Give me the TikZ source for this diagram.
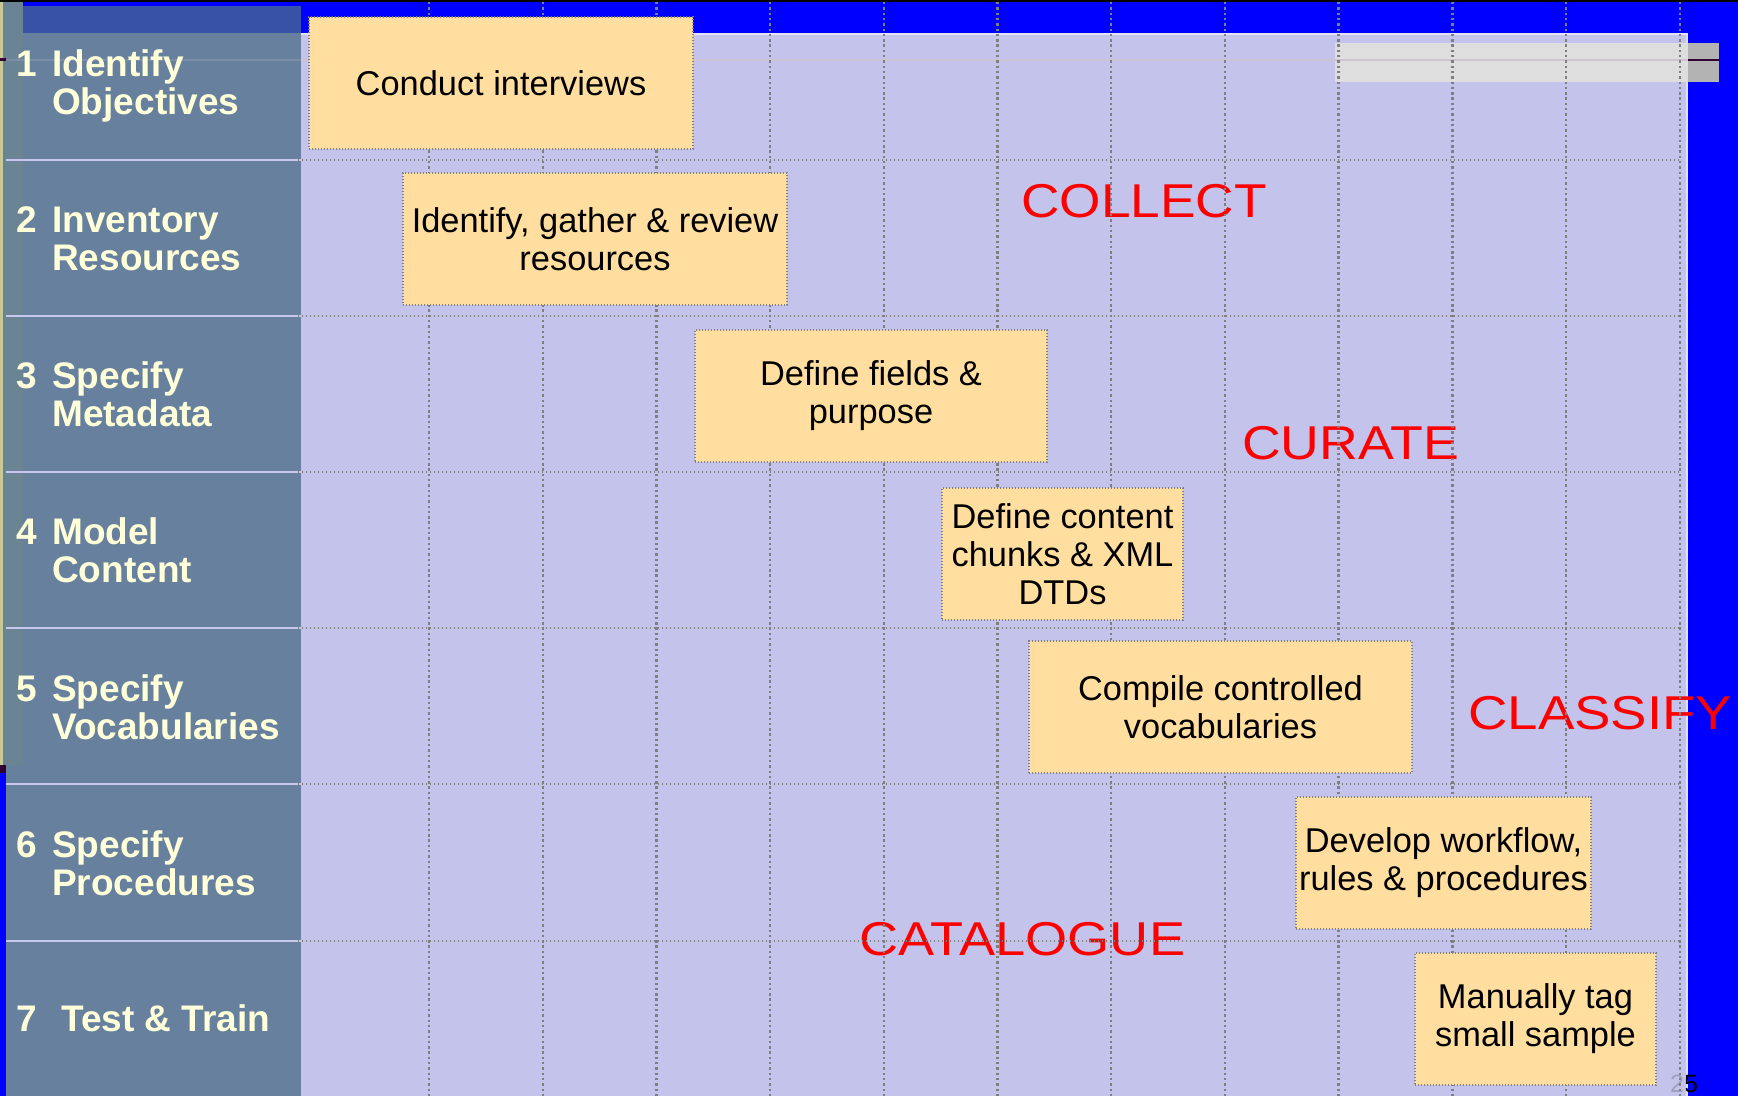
\documentclass[tikz,border=0pt]{standalone}
\usepackage{fontspec}
\setmainfont{Liberation Sans}
\usepackage{graphicx}
\definecolor{slate}{HTML}{66809E}
\definecolor{lav}{HTML}{C3C3EB}
\definecolor{boxfill}{HTML}{FFDE9F}
\definecolor{cream}{HTML}{FFFFD9}
\definecolor{topband}{HTML}{3752A6}
\definecolor{khaki}{HTML}{C8C896}
\definecolor{stripgrey}{HTML}{6A8494}
\definecolor{gridgrey}{HTML}{7F7F7F}
\definecolor{barlight}{HTML}{DEDEDE}
\definecolor{bardark}{HTML}{B3B3B3}
\definecolor{maroon}{HTML}{330033}
\definecolor{pinkline}{HTML}{CFC2D2}
\definecolor{sepline}{HTML}{C8C8EE}
\definecolor{lavedge}{HTML}{E2E2F4}
\definecolor{pureblue}{HTML}{0000FF}
\definecolor{phasered}{HTML}{FF0000}
\begin{document}
\begin{tikzpicture}[x=1pt,y=-1pt,
  stage/.style={draw=gridgrey, line width=1.2pt, dash pattern=on 1.2pt off 1.8pt,
    fill=boxfill, align=center, inner sep=0pt,
    font=\fontsize{34.4}{38}\selectfont},
  rowlabel/.style={anchor=base west, inner sep=0pt, text=cream,
    font=\fontsize{37}{39}\selectfont\bfseries},
  phase/.style={anchor=base west, inner sep=0pt, text=phasered,
    font=\fontsize{47.5}{50}\selectfont},
  vgrid/.style={draw=gridgrey, line width=2.4pt, dash pattern=on 2.4pt off 2.9pt},
  hgrid/.style={draw=gridgrey, line width=1.4pt, dash pattern=on 1.4pt off 2.6pt}]
\useasboundingbox (0,0) rectangle (1738,1096);
% background and panels
\fill[pureblue] (0,0) rectangle (1738,1096);
\fill[black] (0,0) rectangle (1738,2);
\fill[slate] (6,33) rectangle (301,1096);
\fill[topband] (23,6) rectangle (301,33);
\fill[khaki] (0,2) rectangle (3,765);
\fill[stripgrey] (3,2) rectangle (23,765);
\fill[maroon] (0,765) rectangle (6,773);
\fill[lav] (301,33) rectangle (1688,1096);
\draw[lavedge, line width=2pt] (301,34) -- (1687,34) -- (1687,1096);
\foreach \y in {160,316,472,628,784,941}
  \draw[sepline, line width=2pt] (6,\y) -- (301,\y);
% grey bar and thin rule
\fill[barlight] (1335,43) rectangle (1688,82);
\fill[bardark] (1688,43) rectangle (1719,82);
\draw[slate!80!pinkline, line width=2pt] (6,60) -- (301,60);
\draw[pinkline, line width=2pt] (301,60) -- (1688,60);
\draw[maroon, line width=2.5pt] (1688,60) -- (1719,60);
\draw[maroon, line width=3pt] (0,59) -- (6,59);
% page number
\node[anchor=base west, inner sep=0pt, font=\fontsize{25}{28}\selectfont] (pg) at (1670,1092) {25};
\fill[lav, opacity=0.82] (1660,1060) rectangle (1686,1096);
% phase words
\node[phase] (collect) at (1021,217) {\scalebox{1.12}[1]{COLLECT}};
\node[phase] (curate) at (1242,459) {\scalebox{1.13}[1]{CURATE}};
\node[phase] (classify) at (1468,729) {\scalebox{1.15}[1]{CLASSIFY}};
\node[phase] (catalogue) at (859,955) {\scalebox{1.14}[1]{CATALOGUE}};
% grid
\foreach \i in {0,...,11}
  \draw[vgrid] ({429+113.7*\i},2) -- ({429+113.7*\i},1096);
\foreach \y in {160,316,472,628,784,941}
  \draw[hgrid] (298,\y) -- (1680,\y);
% task boxes
\node[stage, minimum width=384pt, minimum height=132pt] (s1) at (501,83) {Conduct interviews};
\node[stage, minimum width=384pt, minimum height=132pt] (s2) at (595,239) {Identify, gather \& review\\resources};
\node[stage, minimum width=352pt, minimum height=132pt] (s3) at (871,396) {Define fields \&\\purpose};
\node[stage, minimum width=241pt, minimum height=132pt] (s4) at (1062.5,554) {Define content\\chunks \& XML\\DTDs};
\node[stage, minimum width=383pt, minimum height=132pt] (s5) at (1220.5,707) {Compile controlled\\vocabularies};
\node[stage, minimum width=295pt, minimum height=132pt] (s6) at (1443.5,863) {Develop workflow,\\rules \& procedures};
\node[stage, minimum width=241pt, minimum height=132pt] (s7) at (1535.5,1019) {Manually tag\\small sample};
% row labels
\node[rowlabel] (n1) at (16,76) {1};
\node[rowlabel] (l1a) at (52,76) {Identify};
\node[rowlabel] (l1b) at (52,114) {Objectives};
\node[rowlabel] (n2) at (16,232.3) {2};
\node[rowlabel] (l2a) at (52,232.3) {Inventory};
\node[rowlabel] (l2b) at (52,270.3) {Resources};
\node[rowlabel] (n3) at (16,388.6) {3};
\node[rowlabel] (l3a) at (52,388.6) {Specify};
\node[rowlabel] (l3b) at (52,426.6) {Metadata};
\node[rowlabel] (n4) at (16,544.9) {4};
\node[rowlabel] (l4a) at (52,544.9) {Model};
\node[rowlabel] (l4b) at (52,582.9) {Content};
\node[rowlabel] (n5) at (16,701.2) {5};
\node[rowlabel] (l5a) at (52,701.2) {Specify};
\node[rowlabel] (l5b) at (52,739.2) {Vocabularies};
\node[rowlabel] (n6) at (16,857.5) {6};
\node[rowlabel] (l6a) at (52,857.5) {Specify};
\node[rowlabel] (l6b) at (52,895.5) {Procedures};
\node[rowlabel] (n7) at (16,1031) {7};
\node[rowlabel] (l7a) at (61,1031) {Test \& Train};
\end{tikzpicture}
\end{document}
